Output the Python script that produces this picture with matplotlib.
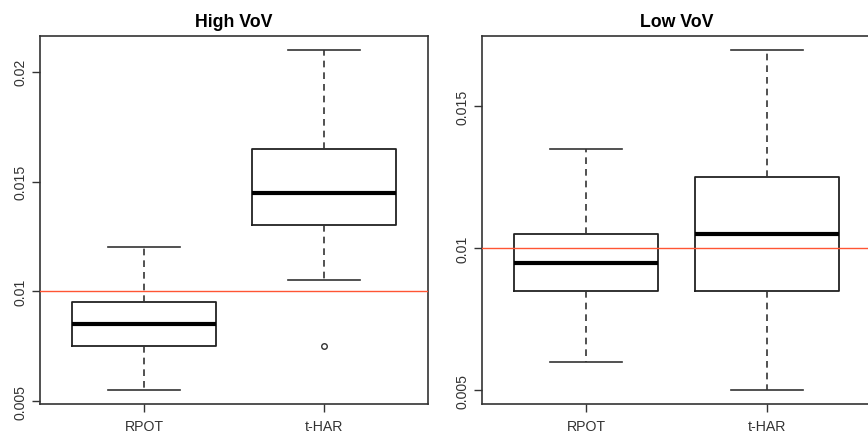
import matplotlib
matplotlib.use("Agg")
import matplotlib.pyplot as plt

categories = ["RPOT", "t-HAR"]

# High VoV panel: whisker low, Q1, median, Q3, whisker high
high_whislo = [0.0055, 0.0105]
high_q1 = [0.0075, 0.0130]
high_med = [0.0085, 0.0145]
high_q3 = [0.0095, 0.0165]
high_whishi = [0.0120, 0.0210]
high_fliers = [[], [0.0075]]

# Low VoV panel
low_whislo = [0.0060, 0.0050]
low_q1 = [0.0085, 0.0085]
low_med = [0.0095, 0.0105]
low_q3 = [0.0105, 0.0125]
low_whishi = [0.0135, 0.0170]
low_fliers = [[], []]

ref_level = 0.01
titles = ["High VoV", "Low VoV"]
high_ticks = [0.005, 0.01, 0.015, 0.02]
high_ticklabels = ["0.005", "0.01", "0.015", "0.02"]
low_ticks = [0.005, 0.01, 0.015]
low_ticklabels = ["0.005", "0.01", "0.015"]

plt.rcParams['font.family'] = ['Liberation Sans', 'DejaVu Sans']

fig = plt.figure(figsize=(8.68, 4.35), dpi=100)
ax1 = fig.add_axes([40/868, 1-405/435, 388/868, 368/435])
ax2 = fig.add_axes([482/868, 1-405/435, 389/868, 368/435])

spine_col = "#333333"

def draw(ax, wlo, q1, med, q3, whi, fl, title, ticks, ticklabels):
    stats = []
    for i in range(len(categories)):
        stats.append(dict(label=categories[i], whislo=wlo[i], q1=q1[i], med=med[i],
                          q3=q3[i], whishi=whi[i], fliers=fl[i]))
    ax.bxp(stats, positions=[1, 2], widths=0.8, showfliers=True,
           boxprops=dict(color="#222222", linewidth=1.3),
           medianprops=dict(color="black", linewidth=3.0),
           whiskerprops=dict(color="#333333", linewidth=1.2, linestyle=(0, (4, 3))),
           capprops=dict(color="#333333", linewidth=1.2),
           flierprops=dict(marker="o", markersize=4, markerfacecolor="none",
                           markeredgecolor="#333333", markeredgewidth=1.0),
           capwidths=0.4)
    ax.axhline(ref_level, color="#ff5533", linewidth=1.0, zorder=3)
    lo = min(wlo + [v for f in fl for v in f])
    hi = max(whi + [v for f in fl for v in f])
    r = hi - lo
    ax.set_ylim(lo - 0.04*r, hi + 0.04*r)
    ax.set_xlim(0.42, 2.58)
    ax.set_yticks(ticks)
    ax.set_yticklabels(ticklabels, rotation=90, va="center", fontsize=10.2, color="#333333")
    ax.set_xticks([1, 2])
    ax.set_xticklabels(categories, fontsize=10.2, color="#333333")
    ax.tick_params(direction="out", length=6, width=1.0, color=spine_col, pad=3)
    ax.tick_params(axis="x", pad=5)
    for s in ax.spines.values():
        s.set_color(spine_col)
        s.set_linewidth(1.2)
    ax.set_title(title, fontsize=12.8, fontweight="bold", pad=7)

draw(ax1, high_whislo, high_q1, high_med, high_q3, high_whishi, high_fliers,
     titles[0], high_ticks, high_ticklabels)
draw(ax2, low_whislo, low_q1, low_med, low_q3, low_whishi, low_fliers,
     titles[1], low_ticks, low_ticklabels)

fig.savefig("out.png", dpi=100)
